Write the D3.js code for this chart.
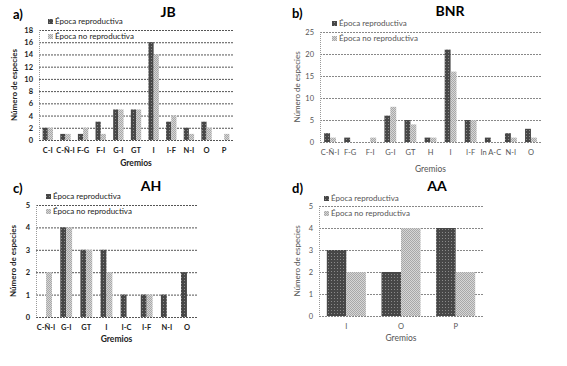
<!DOCTYPE html>
<html>
<head>
<meta charset="utf-8">
<script src="https://cdn.jsdelivr.net/npm/d3@7"></script>
<style>
  body { margin: 0; background: #fff; }
  svg { font-family: Lato, "Open Sans", sans-serif; }
</style>
</head>
<body>
<div id="chart"></div>
<script>
// datos por panel
const seriesNames = ["Época reproductiva", "Época no reproductiva"];

const catsA = ["C-I", "C-Ñ-I", "F-G", "F-I", "G-I", "GT", "I", "I-F", "N-I", "O", "P"];
const repA = [2, 1, 1, 3, 5, 5, 16, 3, 2, 3, 0];
const noRepA = [2, 1, 2, 1, 5, 5, 14, 4, 1, 2, 1];
const ticksA = [0, 2, 4, 6, 8, 10, 12, 14, 16, 18];

const catsB = ["C-Ñ-I", "F-G", "F-I", "G-I", "GT", "H", "I", "I-F", "In A-C", "N-I", "O"];
const repB = [2, 1, 0, 6, 5, 1, 21, 5, 1, 2, 3];
const noRepB = [1, 0, 1, 8, 4, 1, 16, 5, 0, 1, 1];
const ticksB = [0, 5, 10, 15, 20, 25];

const catsC = ["C-Ñ-I", "G-I", "GT", "I", "I-C", "I-F", "N-I", "O"];
const repC = [0, 4, 3, 3, 1, 1, 1, 2];
const noRepC = [2, 4, 3, 2, 0, 1, 0, 0];
const ticksC = [0, 1, 2, 3, 4, 5];

const catsD = ["I", "O", "P"];
const repD = [3, 2, 4];
const noRepD = [2, 4, 2];
const ticksD = [0, 1, 2, 3, 4, 5];

const svg = d3.select("#chart").append("svg")
    .attr("width", 567)
    .attr("height", 366);

// patrones de relleno
const defs = svg.append("defs");
const pDark = defs.append("pattern").attr("id", "pDark")
    .attr("width", 3).attr("height", 3).attr("patternUnits", "userSpaceOnUse");
pDark.append("rect").attr("width", 3).attr("height", 3).attr("fill", "#474747");
pDark.append("rect").attr("x", 1).attr("y", 1).attr("width", 1).attr("height", 1).attr("fill", "#8a8a8a");

const pLight = defs.append("pattern").attr("id", "pLight")
    .attr("width", 2).attr("height", 2).attr("patternUnits", "userSpaceOnUse");
pLight.append("rect").attr("width", 2).attr("height", 2).attr("fill", "#d6d6d6");
pLight.append("rect").attr("width", 1).attr("height", 1).attr("fill", "#a8a8a8");
pLight.append("rect").attr("x", 1).attr("y", 1).attr("width", 1).attr("height", 1).attr("fill", "#a8a8a8");

const fills = ["url(#pDark)", "url(#pLight)"];

function drawPanel(cfg) {
    const g = svg.append("g");
    const x = d3.scaleBand().domain(cfg.cats).range([cfg.x0, cfg.x1]).padding(0);
    const sub = d3.scaleBand().domain([0, 1]).range([0, x.bandwidth()]).paddingOuter(cfg.pad);
    const y = d3.scaleLinear().domain([0, d3.max(cfg.ticks)]).range([cfg.y0, cfg.y1]);

    // líneas de cuadrícula
    g.selectAll(".grid").data(cfg.ticks).enter().append("line")
        .attr("x1", cfg.x0).attr("x2", cfg.x1)
        .attr("y1", d => y(d) + 0.5).attr("y2", d => y(d) + 0.5)
        .attr("stroke", cfg.gridColor)
        .attr("stroke-dasharray", "2,1");

    g.append("line")
        .attr("x1", cfg.x0 + 0.5).attr("x2", cfg.x0 + 0.5)
        .attr("y1", cfg.y1).attr("y2", cfg.y0)
        .attr("stroke", "#999").attr("stroke-dasharray", "1,1");

    // etiquetas del eje y
    g.selectAll(".yt").data(cfg.ticks).enter().append("text")
        .attr("x", cfg.x0 - 6).attr("y", d => y(d) + 3)
        .attr("text-anchor", "end")
        .attr("font-size", 7.5)
        .attr("font-weight", cfg.bold ? "bold" : "normal")
        .attr("fill", cfg.textColor)
        .text(d => d);

    // barras
    const series = [cfg.rep, cfg.noRep];
    series.forEach((vals, si) => {
        g.selectAll(".b" + si).data(vals).enter().append("rect")
            .attr("x", (d, i) => x(cfg.cats[i]) + sub(si))
            .attr("width", sub.bandwidth())
            .attr("y", d => y(d))
            .attr("height", d => y(0) - y(d))
            .attr("fill", fills[si]);
    });

    // etiquetas de categorías
    g.selectAll(".xt").data(cfg.cats).enter().append("text")
        .attr("x", d => x(d) + x.bandwidth() / 2)
        .attr("y", cfg.y0 + cfg.catDy)
        .attr("text-anchor", "middle")
        .attr("font-size", 7.5)
        .attr("font-weight", cfg.bold ? "bold" : "normal")
        .attr("fill", cfg.textColor)
        .text(d => d);

    g.append("text")
        .attr("x", (cfg.x0 + cfg.x1) / 2).attr("y", cfg.y0 + cfg.catDy + cfg.gremDy)
        .attr("text-anchor", "middle")
        .attr("font-size", 8.5)
        .attr("font-weight", cfg.bold ? "bold" : "normal")
        .attr("fill", cfg.textColor)
        .text("Gremios");

    g.append("text")
        .attr("transform", `translate(${cfg.ylabX},${(cfg.y0 + cfg.y1) / 2}) rotate(-90)`)
        .attr("text-anchor", "middle")
        .attr("font-size", 8)
        .attr("font-weight", cfg.bold ? "bold" : "normal")
        .attr("fill", cfg.textColor)
        .text("Número de especies");

    // título y letra
    g.append("text")
        .attr("x", cfg.titleX).attr("y", cfg.titleY)
        .attr("text-anchor", "middle")
        .attr("font-size", 14).attr("font-weight", "bold")
        .text(cfg.title);

    g.append("text")
        .attr("x", cfg.letterX).attr("y", cfg.titleY + 2)
        .attr("font-size", 13).attr("font-weight", "bold")
        .text(cfg.letter);

    // leyenda
    seriesNames.forEach((name, si) => {
        const ly = cfg.legY + si * 15;
        g.append("rect")
            .attr("x", cfg.legX).attr("y", ly - 5)
            .attr("width", 5).attr("height", 5)
            .attr("fill", fills[si]);
        g.append("text")
            .attr("x", cfg.legX + 7).attr("y", ly)
            .attr("font-size", 8)
            .attr("fill", cfg.textColor)
            .text(name);
    });
}

drawPanel({
    cats: catsA, rep: repA, noRep: noRepA, ticks: ticksA,
    x0: 39, x1: 233, y0: 140, y1: 30, pad: 0.7,
    title: "JB", titleX: 168, titleY: 17, letter: "a)", letterX: 13,
    legX: 48, legY: 24, ylabX: 17, catDy: 13, gremDy: 13,
    bold: true, textColor: "#222", gridColor: "#555"
});

drawPanel({
    cats: catsB, rep: repB, noRep: noRepB, ticks: ticksB,
    x0: 320, x1: 541, y0: 142, y1: 32, pad: 0.7,
    title: "BNR", titleX: 450, titleY: 16, letter: "b)", letterX: 292,
    legX: 332, legY: 26, ylabX: 300, catDy: 13, gremDy: 17,
    bold: false, textColor: "#555", gridColor: "#888"
});

drawPanel({
    cats: catsC, rep: repC, noRep: noRepC, ticks: ticksC,
    x0: 36, x1: 197, y0: 317, y1: 205, pad: 0.7,
    title: "AH", titleX: 151, titleY: 191, letter: "c)", letterX: 13,
    legX: 46, legY: 199, ylabX: 16, catDy: 13, gremDy: 12,
    bold: true, textColor: "#222", gridColor: "#555"
});

drawPanel({
    cats: catsD, rep: repD, noRep: noRepD, ticks: ticksD,
    x0: 319, x1: 483, y0: 316, y1: 206, pad: 0.4,
    title: "AA", titleX: 437, titleY: 191, letter: "d)", letterX: 292,
    legX: 324, legY: 201, ylabX: 300, catDy: 13, gremDy: 12,
    bold: false, textColor: "#555", gridColor: "#888"
});
</script>
</body>
</html>
